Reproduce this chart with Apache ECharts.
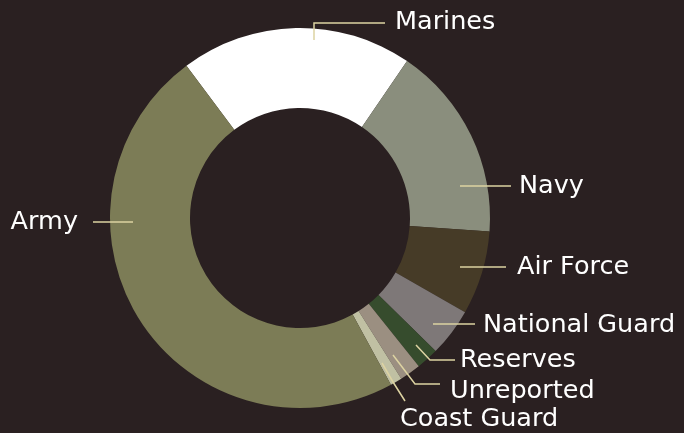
<!DOCTYPE html>
<html>
<head>
<meta charset="utf-8">
<style>
  html, body { margin: 0; padding: 0; background: #2a2021; }
  #chart { width: 684px; height: 433px; }
</style>
<script src="https://cdn.jsdelivr.net/npm/echarts@6/dist/echarts.min.js"></script>
</head>
<body>
<div id="chart"></div>
<script>
// branches, clockwise from the top
const branches = ["Marines", "Navy", "Air Force", "National Guard", "Reserves", "Unreported", "Coast Guard", "Army"];
// share of total (%)
const shares = [19.7, 16.6, 7.1, 4.1, 1.9, 1.8, 1.0, 47.7];
const colors = ["#ffffff", "#8a8e7d", "#463b27", "#7e7878", "#364c2d", "#9b8f81", "#c0c0a3", "#7c7c56"];

// where each label sits and how its line runs
const labelSpots = [
  { x: 395, y: 22, align: "left", line: [[314, 40], [314, 23], [385, 23]] },
  { x: 519, y: 186, align: "left", line: [[460, 186], [485, 186], [511, 186]] },
  { x: 517, y: 267, align: "left", line: [[460, 267], [483, 267], [506, 267]] },
  { x: 483, y: 325, align: "left", line: [[433, 324], [454, 324], [475, 324]] },
  { x: 460, y: 360, align: "left", line: [[416, 345], [430, 360], [455, 360]] },
  { x: 450, y: 391, align: "left", line: [[393, 355], [415, 384], [440, 384]] },
  { x: 400, y: 419, align: "left", line: [[382, 363], [393, 382], [405, 401]] },
  { x: 78, y: 222, align: "right", line: [[133, 222], [113, 222], [93, 222]] }
];

const pieData = branches.map((name, i) => ({ name: name, value: shares[i] }));

const chart = echarts.init(document.getElementById("chart"));
chart.setOption({
  backgroundColor: "#2a2021",
  animation: false,
  series: [
    // the ring itself
    {
      type: "pie",
      z: 2,
      center: [300, 218],
      radius: [110, 190],
      startAngle: 126.7,
      clockwise: true,
      data: pieData.map((d, i) => ({ name: d.name, value: d.value, itemStyle: { color: colors[i] } })),
      label: { show: false },
      labelLine: { show: false },
      emphasis: { disabled: true }
    },
    // same ring, invisible, only to carry labels above the sectors
    {
      type: "pie",
      z: 3,
      center: [300, 218],
      radius: [110, 190],
      startAngle: 126.7,
      clockwise: true,
      avoidLabelOverlap: false,
      itemStyle: { color: "rgba(0,0,0,0)" },
      data: pieData,
      label: {
        show: true,
        position: "outside",
        formatter: "{b}",
        color: "#ffffff",
        fontFamily: "DejaVu Sans",
        fontSize: 25.5
      },
      labelLine: {
        show: true,
        lineStyle: { color: "#ddd3a2", width: 1.5 }
      },
      labelLayout: function (params) {
        const s = labelSpots[params.dataIndex];
        return {
          x: s.x,
          y: s.y,
          align: s.align,
          verticalAlign: "middle",
          labelLinePoints: s.line
        };
      },
      emphasis: { disabled: true }
    }
  ]
});
</script>
</body>
</html>
